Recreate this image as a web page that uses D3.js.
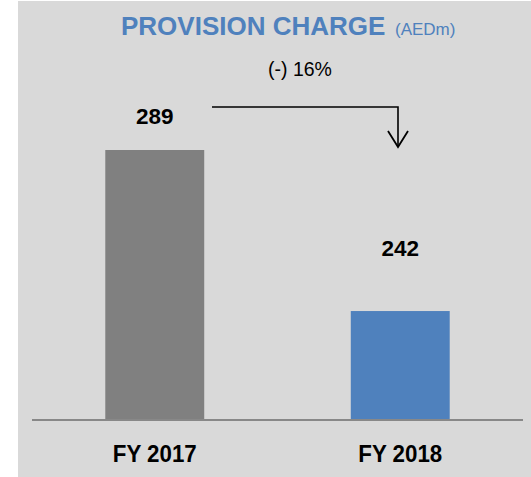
<!DOCTYPE html>
<html>
<head>
<meta charset="utf-8">
<script src="https://cdn.jsdelivr.net/npm/d3@7"></script>
<style>
	html, body { margin:0; padding:0; background:#ffffff; }
	svg { display:block; }
	text { font-family:"Liberation Sans", Arial, sans-serif; }
</style>
</head>
<body>
<svg id="myGraph" width="531" height="477"></svg>
<script>
// 데이터
var categories = ["FY 2017", "FY 2018"];
var values = [289, 242];
var barColors = ["#808080", "#4f81bd"];
var changeLabel = "(-) 16%";

window.addEventListener("load", function(){

	var svg = d3.select("#myGraph");

	// 배경
	svg.append("rect")
		.attr("x", 18).attr("y", 1)
		.attr("width", 513).attr("height", 476)
		.attr("fill", "#d9d9d9");

	// 스케일 (축은 0이 아니라 약 210에서 시작)
	var x = d3.scaleBand().domain(categories).range([32, 523]).padding(0);
	var y = d3.scaleLinear().domain([210.2, 289]).range([420, 150]);
	var barW = x.bandwidth() * 0.403;

	// 막대
	svg.selectAll("rect.bar")
		.data(values)
		.enter()
		.append("rect")
		.attr("class", "bar")
		.attr("x", function(d, i){ return x(categories[i]) + x.bandwidth()/2 - barW/2; })
		.attr("y", function(d){ return y(d); })
		.attr("width", barW)
		.attr("height", function(d){ return 420 - y(d); })
		.attr("fill", function(d, i){ return barColors[i]; });

	// 축 선
	svg.append("line")
		.attr("x1", 32).attr("x2", 523)
		.attr("y1", 420).attr("y2", 420)
		.attr("stroke", "#888888")
		.attr("stroke-width", 2);

	// 카테고리 라벨
	svg.selectAll("text.cat")
		.data(categories)
		.enter()
		.append("text")
		.attr("class", "cat")
		.attr("x", function(d){ return x(d) + x.bandwidth()/2; })
		.attr("y", 462)
		.attr("text-anchor", "middle")
		.attr("font-size", "23px")
		.attr("font-weight", "bold")
		.attr("textLength", 84)
		.attr("lengthAdjust", "spacingAndGlyphs")
		.attr("fill", "#000")
		.text(function(d){ return d; });

	// 값 라벨 (엑셀에서 수동 배치된 위치)
	var labelGap = [26, 55];
	svg.selectAll("text.val")
		.data(values)
		.enter()
		.append("text")
		.attr("class", "val")
		.attr("x", function(d, i){ return x(categories[i]) + x.bandwidth()/2; })
		.attr("y", function(d, i){ return y(d) - labelGap[i]; })
		.attr("text-anchor", "middle")
		.attr("font-size", "22.5px")
		.attr("font-weight", "bold")
		.attr("fill", "#000")
		.text(function(d){ return d; });

	// 제목
	svg.append("text")
		.attr("x", 121).attr("y", 35)
		.attr("font-size", "26px")
		.attr("font-weight", "bold")
		.attr("fill", "#4f81bd")
		.text("PROVISION CHARGE");
	svg.append("text")
		.attr("x", 395).attr("y", 35)
		.attr("font-size", "17px")
		.attr("fill", "#4f81bd")
		.text("(AEDm)");

	// 변화율
	svg.append("text")
		.attr("x", 300).attr("y", 76)
		.attr("text-anchor", "middle")
		.attr("font-size", "19.5px")
		.attr("fill", "#000")
		.text(changeLabel);

	// 화살표
	svg.append("path")
		.attr("d", "M212,107 L398,107 L398,147")
		.attr("fill", "none")
		.attr("stroke", "#000")
		.attr("stroke-width", 1.6);
	svg.append("path")
		.attr("d", "M388,131 L398,147 L408,131")
		.attr("fill", "none")
		.attr("stroke", "#000")
		.attr("stroke-width", 1.8);

});
</script>
</body>
</html>
